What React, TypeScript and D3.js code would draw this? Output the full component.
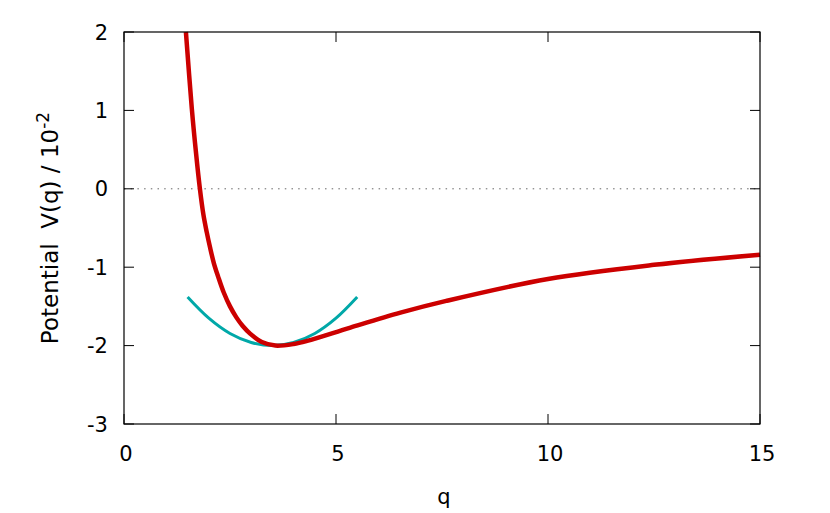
import React, { useEffect, useRef } from "react";
import * as d3 from "d3";

// red curve: potential V(q)
const potQ = [1.46, 1.6, 1.7, 1.79, 1.87, 1.95, 2.03, 2.12, 2.22, 2.35, 2.5, 2.65, 2.8, 2.98, 3.25, 3.57, 4.0, 4.32, 5.34, 6.52, 7.6, 10, 12.5, 15];
const potV = [2.0, 1.02, 0.45, 0, -0.32, -0.55, -0.75, -0.95, -1.12, -1.32, -1.5, -1.64, -1.75, -1.85, -1.955, -2.0, -1.98, -1.94, -1.77, -1.58, -1.43, -1.15, -0.97, -0.84];

// cyan curve: harmonic approximation
const harmQ = [1.5, 2.0, 2.5, 3.0, 3.5, 4.0, 4.5, 5.0, 5.5];
const harmV = [-1.38, -1.65, -1.845, -1.96, -2.0, -1.96, -1.845, -1.65, -1.38];

const xTicks = [0, 5, 10, 15];
const yTicks = [-3, -2, -1, 0, 1, 2];

export default function App() {
  const svgRef = useRef<SVGSVGElement>(null);

  useEffect(() => {
    const svg = d3.select(svgRef.current);
    svg.selectAll("*").remove();

    const margin = { top: 32, right: 70, bottom: 89, left: 124 };
    const width = 830 - margin.left - margin.right;
    const height = 513 - margin.top - margin.bottom;
    const font = "'DejaVu Sans', sans-serif";
    const fs = 21;

    const x = d3.scaleLinear().domain([0, 15]).range([0, width]);
    const y = d3.scaleLinear().domain([-3, 2]).range([height, 0]);

    const g = svg.append("g").attr("transform", `translate(${margin.left},${margin.top})`);

    // zero line
    g.append("line")
      .attr("x1", 0)
      .attr("x2", width)
      .attr("y1", y(0))
      .attr("y2", y(0))
      .attr("stroke", "#666")
      .attr("stroke-width", 1)
      .attr("stroke-dasharray", "1.5,5.2");

    // ticks (mirrored, inward)
    const tl = 10;
    yTicks.forEach((t) => {
      g.append("line").attr("x1", 0).attr("x2", tl).attr("y1", y(t)).attr("y2", y(t)).attr("stroke", "#000");
      g.append("line").attr("x1", width).attr("x2", width - tl).attr("y1", y(t)).attr("y2", y(t)).attr("stroke", "#000");
      g.append("text")
        .attr("x", -16)
        .attr("y", y(t))
        .attr("dy", "0.36em")
        .attr("text-anchor", "end")
        .attr("font-family", font)
        .attr("font-size", fs)
        .text(t);
    });
    xTicks.forEach((t) => {
      g.append("line").attr("x1", x(t)).attr("x2", x(t)).attr("y1", height).attr("y2", height - tl).attr("stroke", "#000");
      g.append("line").attr("x1", x(t)).attr("x2", x(t)).attr("y1", 0).attr("y2", tl).attr("stroke", "#000");
      g.append("text")
        .attr("x", x(t) + 2)
        .attr("y", height + 37)
        .attr("text-anchor", "middle")
        .attr("font-family", font)
        .attr("font-size", fs)
        .text(t);
    });

    const pot = potQ.map((q, i) => [q, potV[i]] as [number, number]);
    const harm = harmQ.map((q, i) => [q, harmV[i]] as [number, number]);

    const line = d3
      .line<[number, number]>()
      .x((d) => x(d[0]))
      .y((d) => y(d[1]))
      .curve(d3.curveCatmullRom.alpha(0.5));

    g.append("path")
      .datum(harm)
      .attr("d", line)
      .attr("fill", "none")
      .attr("stroke", "#00a8a8")
      .attr("stroke-width", 3);

    g.append("path")
      .datum(pot)
      .attr("d", line)
      .attr("fill", "none")
      .attr("stroke", "#cc0000")
      .attr("stroke-width", 4.5);

    // border
    g.append("rect")
      .attr("width", width)
      .attr("height", height)
      .attr("fill", "none")
      .attr("stroke", "#000")
      .attr("stroke-width", 1.2);

    // axis titles
    g.append("text")
      .attr("x", width / 2 + 2)
      .attr("y", height + 80)
      .attr("text-anchor", "middle")
      .attr("font-family", font)
      .attr("font-size", fs)
      .text("q");

    const yl = svg
      .append("text")
      .attr("transform", `translate(58,${margin.top + height / 2}) rotate(-90)`)
      .attr("text-anchor", "middle")
      .attr("font-family", font)
      .attr("font-size", 23)
      .attr("xml:space", "preserve");
    yl.append("tspan").text("Potential  V(q) / 10");
    yl.append("tspan").attr("dy", -9).attr("font-size", 17).text("-2");
  }, []);

  return <svg ref={svgRef} width={830} height={513} style={{ position: "absolute", left: 0, top: 0 }} />;
}
